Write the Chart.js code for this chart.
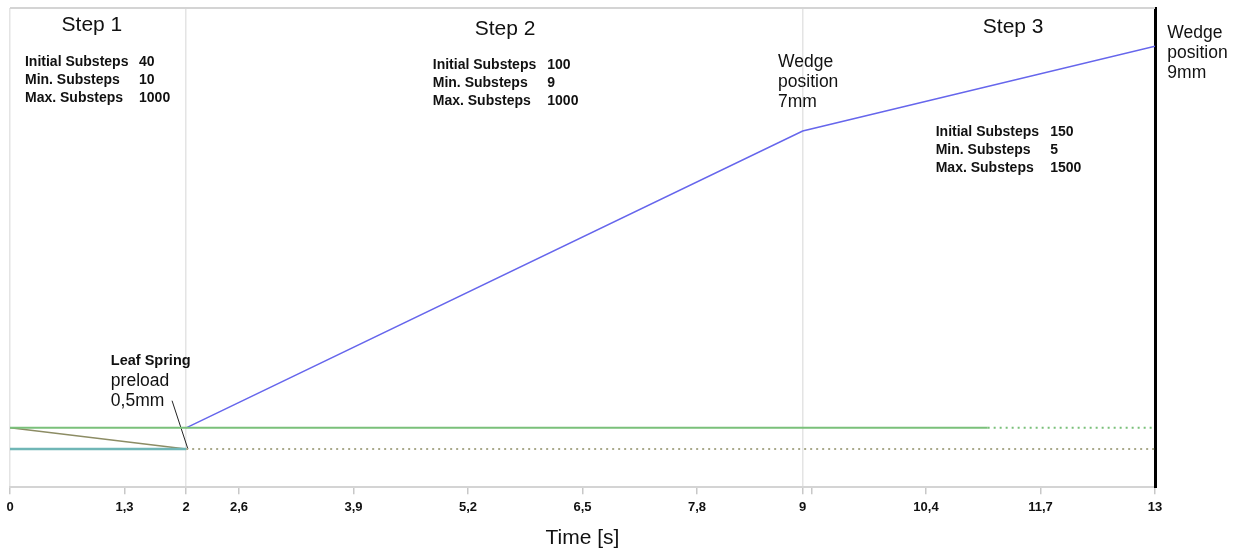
<!DOCTYPE html>
<html>
<head>
    <meta charset="UTF-8">
    <title>Wedge / Leaf Spring Steps</title>
    <script src="https://cdn.jsdelivr.net/npm/chart.js"></script>
    <style>
        html, body { margin: 0; padding: 0; background: #fff; }
        #wrap { width: 1236px; height: 552px; }
    </style>
</head>
<body>
<div id="wrap"><canvas id="chart"></canvas></div>

<script>
    // time axis ticks (s)
    var tickValues = [0, 1.3, 2, 2.6, 3.9, 5.2, 6.5, 7.8, 9, 9.1, 10.4, 11.7, 13];
    var gridValues = [0, 2, 9];

    // wedge position (mm)
    var wedgeTime = [2, 9, 13];
    var wedgePos = [0, 7, 9];

    // wedge contact line, solid part then dotted part
    var contactTime = [0, 11.1];
    var contactPos = [0, 0];
    var contactDotTime = [11.1, 13];
    var contactDotPos = [0, 0];

    // leaf spring preload
    var springTime = [0, 2];
    var springPos = [-0.5, -0.5];
    var preloadTime = [0, 2];
    var preloadPos = [0, -0.5];
    var springDotTime = [2, 13];
    var springDotPos = [-0.5, -0.5];

    // pointer of the leaf spring note
    var pointerTime = [1.84, 2.02];
    var pointerPos = [0.64, -0.5];

    var stepTitles = ['Step 1', 'Step 2', 'Step 3'];
    var substepNames = ['Initial Substeps', 'Min. Substeps', 'Max. Substeps'];
    var substepValues = [
        ['40', '10', '1000'],
        ['100', '9', '1000'],
        ['150', '5', '1500']
    ];
    var wedgeNotes = [
        ['Wedge', 'position', '7mm'],
        ['Wedge', 'position', '9mm']
    ];
    var springNote = ['Leaf Spring', 'preload', '0,5mm'];

    function pts(xs, ys) {
        return xs.map(function (x, i) { return {x: x, y: ys[i]}; });
    }

    function line(data, color, width, dash) {
        return {
            data: data,
            borderColor: color,
            borderWidth: width,
            borderDash: dash || [],
            pointRadius: 0,
            fill: false,
            tension: 0
        };
    }

    // text notes, placed in data coordinates (time, mm)
    var notesPlugin = {
        id: 'notes',
        afterDatasetsDraw: function (chart) {
            var ctx = chart.ctx;
            var xs = chart.scales.x, ys = chart.scales.y;
            var area = chart.chartArea;
            function X(t) { return xs.getPixelForValue(t); }
            function Y(v) { return ys.getPixelForValue(v); }

            ctx.save();
            // top border
            ctx.strokeStyle = '#d4d4d4';
            ctx.lineWidth = 2;
            ctx.beginPath();
            ctx.moveTo(area.left, area.top);
            ctx.lineTo(area.right, area.top);
            ctx.stroke();

            ctx.fillStyle = '#111';
            ctx.textBaseline = 'middle';

            // step titles
            ctx.font = '21px "Liberation Sans", Arial, sans-serif';
            ctx.textAlign = 'center';
            var titleAt = [[0.93, 9.5], [5.62, 9.4], [11.39, 9.45]];
            stepTitles.forEach(function (s, i) {
                ctx.fillText(s, X(titleAt[i][0]), Y(titleAt[i][1]));
            });

            // substep blocks
            ctx.textAlign = 'left';
            ctx.font = 'bold 14px "Liberation Sans", Arial, sans-serif';
            var blockAt = [[0.17, 1.465, 8.62], [4.8, 6.1, 8.55], [10.51, 11.81, 6.98]];
            substepValues.forEach(function (vals, b) {
                for (var r = 0; r < 3; r++) {
                    var yy = Y(blockAt[b][2]) + r * 18;
                    ctx.fillText(substepNames[r], X(blockAt[b][0]), yy);
                    ctx.fillText(vals[r], X(blockAt[b][1]), yy);
                }
            });

            // wedge position notes
            ctx.font = '17.5px "Liberation Sans", Arial, sans-serif';
            var wedgeAt = [[8.72, 8.63], [13.14, 9.31]];
            wedgeNotes.forEach(function (lines, n) {
                lines.forEach(function (s, r) {
                    ctx.fillText(s, X(wedgeAt[n][0]), Y(wedgeAt[n][1]) + r * 20);
                });
            });

            // leaf spring note
            var sx = X(1.145), sy = Y(1.58);
            ctx.font = 'bold 14.5px "Liberation Sans", Arial, sans-serif';
            ctx.fillText(springNote[0], sx, sy);
            ctx.font = '17.5px "Liberation Sans", Arial, sans-serif';
            ctx.fillText(springNote[1], sx, sy + 20);
            ctx.fillText(springNote[2], sx, sy + 40);
            ctx.restore();
        }
    };

    var ctx = document.getElementById('chart').getContext('2d');
    var chart = new Chart(ctx, {
        type: 'line',
        data: {
            datasets: [
                line(pts(springTime, springPos), 'rgb(112,182,182)', 2.5),
                line(pts(springDotTime, springDotPos), 'rgb(170,170,140)', 2, [2, 4]),
                line(pts(contactTime, contactPos), 'rgb(122,192,122)', 2),
                line(pts(contactDotTime, contactDotPos), 'rgb(122,192,122)', 2, [2, 4]),
                line(pts(preloadTime, preloadPos), 'rgb(140,140,100)', 1.5),
                line(pts(wedgeTime, wedgePos), 'rgb(102,102,236)', 1.5),
                line(pts(pointerTime, pointerPos), '#222', 1)
            ]
        },
        options: {
            responsive: true,
            maintainAspectRatio: false,
            animation: false,
            layout: {
                padding: {left: 10, right: 81, top: 8, bottom: 1}
            },
            plugins: {
                legend: {display: false},
                tooltip: {enabled: false}
            },
            scales: {
                x: {
                    type: 'linear',
                    min: 0,
                    max: 13,
                    afterBuildTicks: function (scale) {
                        scale.ticks = tickValues.map(function (v) { return {value: v}; });
                    },
                    grid: {
                        color: function (c) {
                            return c.tick && gridValues.indexOf(c.tick.value) >= 0 ? '#e4e4e4' : 'rgba(0,0,0,0)';
                        },
                        tickColor: '#c8c8c8',
                        tickLength: 7,
                        lineWidth: 1.5
                    },
                    border: {display: true, color: '#d4d4d4', width: 2},
                    ticks: {
                        autoSkip: false,
                        maxRotation: 0,
                        padding: 5,
                        color: '#111',
                        font: {family: '"Liberation Sans", Arial, sans-serif', size: 13, weight: 'bold'},
                        callback: function (v) {
                            return v === 9.1 ? '' : String(v).replace('.', ',');
                        }
                    },
                    title: {
                        display: true,
                        text: 'Time [s]',
                        color: '#111',
                        font: {family: '"Liberation Sans", Arial, sans-serif', size: 21},
                        padding: {top: 6, bottom: 0}
                    }
                },
                y: {
                    type: 'linear',
                    position: 'right',
                    min: -1.4,
                    max: 9.9,
                    grid: {display: false, drawTicks: false},
                    border: {display: true, color: '#000', width: 3},
                    ticks: {display: false}
                }
            }
        },
        plugins: [notesPlugin]
    });
</script>
</body>
</html>
